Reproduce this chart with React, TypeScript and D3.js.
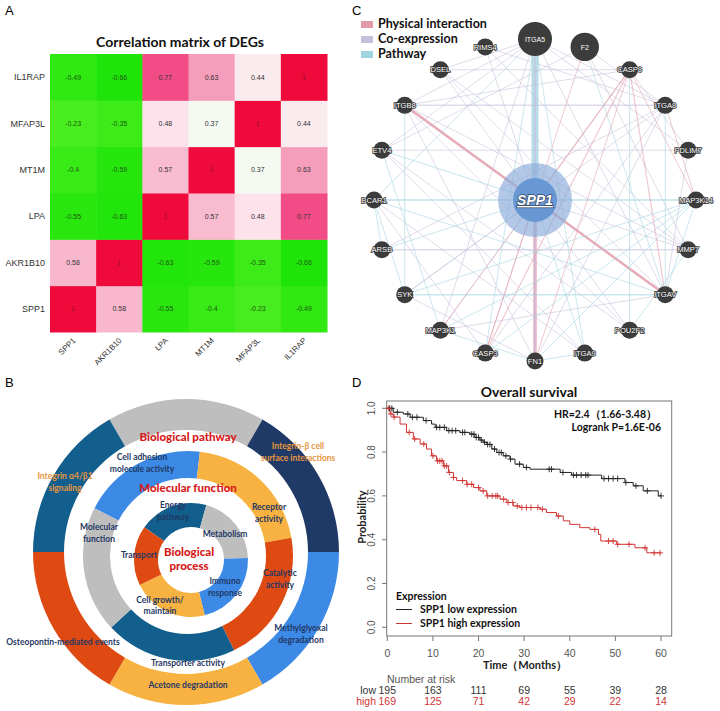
import React from 'react';
import * as d3 from 'd3';

// ---------- Panel A data ----------
const genes = ['SPP1', 'AKR1B10', 'LPA', 'MT1M', 'MFAP3L', 'IL1RAP'];
const corrSPP1 = [1, 0.58, -0.55, -0.4, -0.23, -0.49];
const corrAKR1B10 = [0.58, 1, -0.63, -0.59, -0.35, -0.66];
const corrLPA = [-0.55, -0.63, 1, 0.57, 0.48, 0.77];
const corrMT1M = [-0.4, -0.59, 0.57, 1, 0.37, 0.63];
const corrMFAP3L = [-0.23, -0.35, 0.48, 0.37, 1, 0.44];
const corrIL1RAP = [-0.49, -0.66, 0.77, 0.63, 0.44, 1];
const corrRows = [corrSPP1, corrAKR1B10, corrLPA, corrMT1M, corrMFAP3L, corrIL1RAP];

// ---------- Panel B data ----------
const pathwayNames = ['', 'Integrin-β cell surface interactions', 'Methylglyoxal degradation', 'Acetone degradation', 'Osteopontin-mediated events', 'Integrin α4/β1 signaling'];
const pathwaySpans = [60, 60, 60, 60, 60, 60];
const functionNames = ['Cell adhesion molecule activity', 'Receptor activity', 'Catalytic activity', 'Transporter activity', 'Molecular function'];
const functionSpans = [69.5, 73.5, 74, 73, 70];
const processNames = ['Energy pathway', 'Metabolism', 'Immuno response', 'Cell growth/maintain', 'Transport'];
const processSpans = [70.6, 72.4, 78, 78, 61];

// ---------- Panel C data ----------
const netNodes = ['ITGA5', 'F2', 'CASP8', 'ITGA8', 'PDLIM7', 'MAP3K14', 'MMP7', 'ITGAV', 'POU2F2', 'ITGA9', 'FN1', 'CASP3', 'MAP3K1', 'SYK', 'ARSB', 'BCAR1', 'ETV4', 'ITGB8', 'DSEL', 'RIMS4'];
const netNodeScore = [10, 6, 1, 1, 1, 1, 1, 1, 1, 1, 1, 1, 1, 1, 1, 1, 1, 1, 1, 1];
const netEdges: [string, string, string, number][] = [
  ['ITGA5', 'SPP1', 'W', 7], ['ITGA5', 'SPP1', 'C', 2], ['SPP1', 'FN1', 'P', 3.5], ['SPP1', 'FN1', 'C', 2],
  ['ITGB8', 'SPP1', 'P', 2.5], ['SPP1', 'ITGAV', 'P', 2.5], ['ETV4', 'SPP1', 'W', 1.2], ['BCAR1', 'SPP1', 'W', 1],
  ['RIMS4', 'SPP1', 'C', 1], ['DSEL', 'SPP1', 'C', 1], ['CASP8', 'SPP1', 'P', 1.2], ['SPP1', 'MAP3K14', 'W', 1],
  ['SPP1', 'MMP7', 'C', 1], ['SPP1', 'CASP3', 'P', 1], ['SPP1', 'SYK', 'W', 1], ['SPP1', 'MAP3K1', 'C', 1],
  ['SPP1', 'ITGA9', 'W', 1], ['SPP1', 'POU2F2', 'C', 1], ['SPP1', 'ARSB', 'W', 1], ['ITGB8', 'ITGA8', 'C', 1.5],
  ['ARSB', 'MMP7', 'C', 1.5], ['SYK', 'ITGAV', 'W', 1.5], ['BCAR1', 'MAP3K14', 'W', 1.2], ['ITGA5', 'ITGA8', 'C', 1],
  ['ITGA5', 'PDLIM7', 'C', 1], ['ITGA5', 'DSEL', 'C', 1], ['ITGA5', 'ITGB8', 'C', 1], ['ITGA5', 'ITGAV', 'C', 1],
  ['ITGA5', 'BCAR1', 'W', 1], ['ITGA5', 'MAP3K1', 'C', 1], ['ITGA5', 'CASP3', 'W', 1], ['F2', 'ITGA8', 'C', 1],
  ['F2', 'MMP7', 'C', 1], ['F2', 'CASP3', 'P', 1], ['F2', 'ITGAV', 'W', 1], ['F2', 'ETV4', 'C', 1],
  ['CASP8', 'CASP3', 'P', 1.2], ['CASP8', 'ITGAV', 'P', 1.2], ['CASP8', 'MAP3K14', 'P', 1], ['CASP8', 'POU2F2', 'W', 1],
  ['CASP8', 'DSEL', 'C', 1], ['CASP8', 'ITGB8', 'C', 1], ['CASP8', 'MAP3K1', 'P', 1], ['CASP8', 'PDLIM7', 'C', 1],
  ['ITGB8', 'SYK', 'W', 1], ['ITGB8', 'ITGAV', 'P', 1], ['ITGB8', 'FN1', 'C', 1], ['ITGB8', 'MMP7', 'C', 1],
  ['ETV4', 'MAP3K1', 'W', 1], ['ETV4', 'PDLIM7', 'C', 1], ['ETV4', 'ITGA5', 'C', 1], ['BCAR1', 'SYK', 'W', 1],
  ['BCAR1', 'ARSB', 'W', 1], ['BCAR1', 'CASP3', 'C', 1], ['BCAR1', 'ITGAV', 'W', 1], ['BCAR1', 'ITGA9', 'C', 1],
  ['SYK', 'MAP3K14', 'W', 1], ['SYK', 'ITGA8', 'C', 1], ['MAP3K1', 'MAP3K14', 'W', 1], ['MAP3K1', 'ITGAV', 'C', 1],
  ['POU2F2', 'ETV4', 'C', 1], ['POU2F2', 'ITGB8', 'C', 1], ['MMP7', 'DSEL', 'C', 1], ['ITGA8', 'MAP3K14', 'P', 1],
  ['ITGA8', 'ITGAV', 'W', 1], ['PDLIM7', 'ITGAV', 'C', 1], ['RIMS4', 'ITGA8', 'C', 1], ['RIMS4', 'MMP7', 'C', 1],
  ['DSEL', 'ITGAV', 'C', 1], ['FN1', 'ITGA8', 'C', 1], ['FN1', 'CASP8', 'P', 1], ['FN1', 'ITGA9', 'W', 1],
  ['FN1', 'MAP3K1', 'W', 1], ['FN1', 'SYK', 'C', 1], ['FN1', 'MAP3K14', 'W', 1], ['ITGA9', 'ITGA5', 'W', 1],
  ['ITGA9', 'ETV4', 'C', 1], ['CASP3', 'ITGA8', 'C', 1], ['CASP3', 'MAP3K14', 'W', 1], ['ARSB', 'ITGA8', 'C', 1],
  ['MMP7', 'POU2F2', 'W', 1], ['MAP3K14', 'ITGAV', 'W', 1],
];
const edgeTypes = ['Physical interaction', 'Co-expression', 'Pathway'];

// ---------- Panel D data ----------
const lowTimes = [0, 1.3, 3.5, 5.0, 7.9, 9.7, 10.5, 13.0, 15.9, 18.1, 19.2, 20.3, 21.0, 21.8, 22.9, 24.0, 25.4, 26.9, 28.0, 29.8, 31.3, 37.9, 40.4, 47.0, 52.1, 53.9, 56.1, 59.4];
const lowSurv = [1.0, 0.982, 0.974, 0.959, 0.944, 0.928, 0.913, 0.898, 0.890, 0.882, 0.867, 0.855, 0.845, 0.835, 0.814, 0.798, 0.783, 0.768, 0.745, 0.730, 0.722, 0.707, 0.695, 0.679, 0.661, 0.646, 0.623, 0.600];
const lowCensor = [0.5, 1.0, 2.2, 4.5, 5.5, 6.5, 8.5, 10.8, 11.5, 12.5, 13.5, 14.2, 15.0, 16.5, 17.0, 18.5, 19.0, 19.5, 20.0, 20.6, 21.3, 22.0, 22.5, 23.5, 24.5, 25.0, 26.0, 27.0, 29.0, 30.5, 35.5, 36.0, 38.5, 40.8, 41.5, 42.5, 43.5, 44.0, 47.5, 48.5, 49.5, 50.5, 52.3, 54.5, 57.0, 60.0];
const highTimes = [0, 0.6, 1.3, 2.8, 4.2, 5.7, 7.2, 8.6, 9.7, 10.8, 12.3, 13.4, 14.5, 15.2, 17.4, 18.9, 20.3, 21.8, 24.7, 26.2, 27.6, 29.1, 33.5, 34.9, 37.1, 38.6, 40.0, 42.2, 44.4, 46.3, 46.8, 50.3, 54.3, 56.9];
const highSurv = [1.0, 0.974, 0.96, 0.928, 0.89, 0.86, 0.837, 0.814, 0.783, 0.76, 0.737, 0.707, 0.684, 0.67, 0.653, 0.638, 0.623, 0.60, 0.585, 0.57, 0.554, 0.547, 0.539, 0.524, 0.508, 0.486, 0.47, 0.455, 0.447, 0.424, 0.394, 0.379, 0.363, 0.34];
const highCensor = [0.3, 0.8, 1.5, 4.8, 6.0, 8.0, 10.0, 11.0, 11.5, 12.0, 12.5, 13.0, 13.6, 14.5, 16.5, 17.5, 18.5, 20.0, 21.0, 22.0, 23.0, 23.8, 24.2, 25.5, 26.5, 27.5, 28.5, 29.5, 30.5, 31.5, 33.0, 34.0, 37.5, 45.5, 48.5, 49.5, 50.5, 53.0, 56.5, 58.5, 59.8];
const riskTimes = [0, 10, 20, 30, 40, 50, 60];
const riskLow = [195, 163, 111, 69, 55, 39, 28];
const riskHigh = [169, 125, 71, 42, 29, 22, 14];
const yTicks = [0, 0.2, 0.4, 0.6, 0.8, 1.0];

const SANS = 'Liberation Sans, Arial, sans-serif';
const LATO = 'Lato, Open Sans, sans-serif';
const rad = (d: number) => (d * Math.PI) / 180;

function PanelA() {
  const x = d3.scaleBand<string>().domain(genes).range([50, 327]);
  const y = d3.scaleBand<string>().domain([...genes].reverse()).range([54, 332]);
  const neg = d3.scaleLinear<string>().domain([-0.66, -0.2]).range(['#1fe40a', '#4cee20']);
  const pos = d3.scaleLinear<string>().domain([0.37, 0.48, 0.6, 0.77, 1]).range(['#f4faf2', '#fde2ec', '#f7aec7', '#f14c86', '#ef0a3c']);
  const cells: any[] = [];
  genes.forEach((r, ri) => genes.forEach((c, ci) => cells.push({ r, c, v: corrRows[ri][ci] })));
  return (
    <g>
      <text x={5} y={15} fontFamily={SANS} fontSize={13}>A</text>
      <text x={180} y={47} textAnchor="middle" fontFamily={LATO} fontWeight={700} fontSize={14} fill="#111">Correlation matrix of  DEGs</text>
      {cells.map((d, i) => (
        <g key={i}>
          <rect x={x(d.c)} y={y(d.r)} width={x.bandwidth() + 0.5} height={y.bandwidth() + 0.5} fill={d.v < 0 ? neg(d.v) : pos(d.v)} />
          <text x={(x(d.c) as number) + x.bandwidth() / 2} y={(y(d.r) as number) + y.bandwidth() / 2 + 2.5} textAnchor="middle" fontFamily={SANS} fontSize={7} fill={d.v === 1 ? '#9a0a2a' : d.v < 0 ? '#1d5a10' : '#333'}>{String(d.v)}</text>
        </g>
      ))}
      {genes.map((g) => (
        <text key={'r' + g} x={45} y={(y(g) as number) + y.bandwidth() / 2 + 3} textAnchor="end" fontFamily={SANS} fontSize={9} fill="#333">{g}</text>
      ))}
      {genes.map((g) => {
        const cx = (x(g) as number) + x.bandwidth() / 2 + 3;
        return (
          <text key={'c' + g} transform={`translate(${cx},341) rotate(-45)`} textAnchor="end" fontFamily={SANS} fontSize={8} fill="#333">{g}</text>
        );
      })}
    </g>
  );
}

const segColors = {
  gray: '#bebebe', navy: '#1f3a66', blue: '#3d8ae6', yellow: '#f7b241', red: '#de4a12', teal: '#125f8e',
};

function Ring({ cx, cy, r0, r1, spans, start, colors }: any) {
  const pie = d3.pie<number>().sort(null).value((d) => d).startAngle(rad(start)).endAngle(rad(start + 360));
  const arc = d3.arc<any>().innerRadius(r0).outerRadius(r1);
  return (
    <g transform={`translate(${cx},${cy})`}>
      {pie(spans).map((a, i) => (
        <path key={i} d={arc(a) as string} fill={colors[i]} />
      ))}
    </g>
  );
}

function Lines({ x, ys, lines, size, color, weight = 700 }: any) {
  return (
    <>
      {lines.map((l: string, i: number) => (
        <text key={i} x={x} y={ys[i]} textAnchor="middle" fontFamily={LATO} fontWeight={weight} fontSize={size} fill={color}>{l}</text>
      ))}
    </>
  );
}

function PanelB() {
  const navy = '#1f3864';
  const orange = '#e8963e';
  const red = '#d71a1a';
  return (
    <g>
      <text x={5} y={387} fontFamily={SANS} fontSize={13}>B</text>
      <Ring cx={186} cy={552} r0={122} r1={153} spans={pathwaySpans} start={-30}
        colors={[segColors.gray, segColors.navy, segColors.blue, segColors.yellow, segColors.red, segColors.teal]} />
      <Ring cx={188} cy={556} r0={78} r1={105} spans={functionSpans} start={-63}
        colors={[segColors.blue, segColors.yellow, segColors.red, segColors.teal, segColors.gray]} />
      <Ring cx={191} cy={560} r0={33} r1={57} spans={processSpans} start={-55}
        colors={[segColors.teal, segColors.gray, segColors.blue, segColors.yellow, segColors.red]} />
      <Lines x={188} ys={[441]} lines={['Biological pathway']} size={11.5} color={red} weight={900} />
      <Lines x={188} ys={[492]} lines={['Molecular function']} size={11.5} color={red} weight={900} />
      <Lines x={189} ys={[556, 570]} lines={['Biological', 'process']} size={11.5} color={red} weight={900} />
      <Lines x={65} ys={[479, 491]} lines={['Integrin α4/β1', 'signaling']} size={8.5} color={orange} />
      <Lines x={298} ys={[449, 461]} lines={['Integrin-β cell', 'surface interactions']} size={8.5} color={orange} />
      <Lines x={301} ys={[631, 643]} lines={['Methylglyoxal', 'degradation']} size={8.5} color={navy} />
      <Lines x={188} ys={[688]} lines={['Acetone degradation']} size={8.5} color={navy} />
      <Lines x={63} ys={[645]} lines={['Osteopontin-mediated events']} size={8.5} color={navy} />
      <Lines x={142} ys={[460, 472]} lines={['Cell adhesion', 'molecule activity']} size={8.5} color={navy} />
      <Lines x={269} ys={[510, 522]} lines={['Receptor', 'activity']} size={8.5} color={navy} />
      <Lines x={280} ys={[576, 588]} lines={['Catalytic', 'activity']} size={8.5} color={navy} />
      <Lines x={188} ys={[666]} lines={['Transporter activity']} size={8.5} color={navy} />
      <Lines x={99} ys={[530, 542]} lines={['Molecular', 'function']} size={8.5} color={navy} />
      <Lines x={173} ys={[508, 520]} lines={['Energy', 'pathway']} size={8.5} color={navy} />
      <Lines x={225} ys={[537]} lines={['Metabolism']} size={8.5} color={navy} />
      <Lines x={139} ys={[558]} lines={['Transport']} size={8.5} color={navy} />
      <Lines x={225} ys={[584, 596]} lines={['Immuno', 'response']} size={8.5} color={navy} />
      <Lines x={160} ys={[603, 614]} lines={['Cell growth/', 'maintain']} size={8.5} color={navy} />
    </g>
  );
}

function PanelC() {
  const cx = 535, cy = 200, R = 161;
  const ang = d3.scaleLinear().domain([0, netNodes.length]).range([0, 360]);
  const size = d3.scaleSqrt().domain([1, 10]).range([8.5, 17]);
  const pos: Record<string, [number, number]> = { SPP1: [cx, cy] };
  netNodes.forEach((n, i) => {
    const a = rad(ang(i));
    pos[n] = [cx + R * Math.sin(a), cy - R * Math.cos(a)];
  });
  const ecol: Record<string, string> = { P: '#e09aa8', C: '#c6bedb', W: '#9fd3e0' };
  const legendCols = [ecol.P, ecol.C, ecol.W];
  return (
    <g>
      <text x={352} y={15} fontFamily={SANS} fontSize={13}>C</text>
      {netEdges.map((e, i) => {
        const [a, b, t, w] = e;
        return (
          <line key={i} x1={pos[a][0]} y1={pos[a][1]} x2={pos[b][0]} y2={pos[b][1]} stroke={ecol[t]} strokeWidth={w} strokeOpacity={w > 2 ? 0.75 : 0.55} />
        );
      })}
      <circle cx={cx} cy={cy} r={37} fill="#88aad8" fillOpacity={0.65} />
      <circle cx={cx} cy={cy} r={22} fill="#6898d4" />
      <text x={cx} y={cy + 5} textAnchor="middle" fontFamily={SANS} fontStyle="italic" fontWeight={700} fontSize={14} fill="#fff" stroke="#3a4a66" strokeWidth={1.5} paintOrder="stroke" textDecoration="underline">SPP1</text>
      {netNodes.map((n, i) => {
        const r = size(netNodeScore[i]);
        return (
          <g key={n}>
            <circle cx={pos[n][0]} cy={pos[n][1]} r={r} fill="#3c3c3c" />
            <text x={pos[n][0]} y={pos[n][1] + 2.7} textAnchor="middle" fontFamily={SANS} fontSize={r > 10 ? 7 : 7.6} fill="#fff" stroke={r > 10 ? 'none' : '#333'} strokeWidth={1.6} paintOrder="stroke">{n}</text>
          </g>
        );
      })}
      {edgeTypes.map((t, i) => (
        <g key={t}>
          <rect x={361} y={21 + i * 15} width={12} height={7} fill={legendCols[i]} />
          <text x={378} y={28 + i * 15} fontFamily={LATO} fontWeight={700} fontSize={12.5} fill="#111">{t}</text>
        </g>
      ))}
    </g>
  );
}

function survAt(times: number[], surv: number[], t: number) {
  const i = d3.bisectRight(times, t) - 1;
  return surv[Math.max(0, i)];
}

function PanelD() {
  const x = d3.scaleLinear().domain([0, 60]).range([387.3, 661]);
  const y = d3.scaleLinear().domain([0, 1]).range([627.3, 408.3]);
  const line = d3.line<[number, number]>().x((d) => x(d[0])).y((d) => y(d[1])).curve(d3.curveStepAfter);
  const lowPts: [number, number][] = lowTimes.map((t, i) => [t, lowSurv[i]] as [number, number]).concat([[60, lowSurv[lowSurv.length - 1]]]);
  const highPts: [number, number][] = highTimes.map((t, i) => [t, highSurv[i]] as [number, number]).concat([[60, highSurv[highSurv.length - 1]]]);
  const black = '#222';
  const redc = '#d23434';
  const plus = (cxp: number, cyp: number, c: string, k: string) => (
    <path key={k} d={`M${cxp - 3},${cyp}H${cxp + 3}M${cxp},${cyp - 3}V${cyp + 3}`} stroke={c} strokeWidth={0.9} />
  );
  const gray = '#555';
  return (
    <g>
      <text x={352} y={387} fontFamily={SANS} fontSize={13}>D</text>
      <text x={529} y={397} textAnchor="middle" fontFamily={LATO} fontWeight={700} fontSize={14} fill="#111">Overall survival</text>
      <rect x={386.7} y={401} width={285} height={235} fill="none" stroke="#777" strokeWidth={1} />
      {yTicks.map((t) => (
        <g key={'y' + t}>
          <line x1={386.7} x2={382} y1={y(t)} y2={y(t)} stroke="#777" />
          <text transform={`translate(375,${y(t)}) rotate(-90)`} textAnchor="middle" fontFamily={SANS} fontSize={10} fill={gray}>{t.toFixed(1)}</text>
        </g>
      ))}
      {riskTimes.map((t) => (
        <g key={'x' + t}>
          <line x1={x(t)} x2={x(t)} y1={636} y2={641} stroke="#777" />
          <text x={x(t)} y={657} textAnchor="middle" fontFamily={SANS} fontSize={10.5} fill={gray}>{t}</text>
        </g>
      ))}
      <text x={525} y={669} textAnchor="middle" fontFamily={LATO} fontWeight={700} fontSize={11} fill="#222">Time（Months）</text>
      <text transform="translate(366,517) rotate(-90)" textAnchor="middle" fontFamily={LATO} fontWeight={700} fontSize={11} fill="#222">Probability</text>
      <path d={line(lowPts) as string} fill="none" stroke={black} strokeWidth={1} />
      <path d={line(highPts) as string} fill="none" stroke={redc} strokeWidth={1} />
      {lowCensor.map((t, i) => plus(x(t), y(survAt(lowTimes, lowSurv, t)), black, 'lc' + i))}
      {highCensor.map((t, i) => plus(x(t), y(survAt(highTimes, highSurv, t)), redc, 'hc' + i))}
      <text x={657} y={418} textAnchor="end" fontFamily={LATO} fontWeight={700} fontSize={10.5} fill="#111">HR=2.4（1.66-3.48）</text>
      <text x={661} y={431} textAnchor="end" fontFamily={LATO} fontWeight={700} fontSize={10.5} fill="#111">Logrank P=1.6E-06</text>
      <text x={396} y={600} fontFamily={LATO} fontWeight={700} fontSize={10.5} fill="#111">Expression</text>
      <line x1={396} x2={412} y1={609.5} y2={609.5} stroke={black} />
      <text x={420} y={613} fontFamily={LATO} fontWeight={700} fontSize={10.5} fill="#111">SPP1 low expression</text>
      <line x1={396} x2={412} y1={623.5} y2={623.5} stroke={redc} />
      <text x={420} y={627} fontFamily={LATO} fontWeight={700} fontSize={10.5} fill="#111">SPP1 high expression</text>
      <text x={387} y={683} fontFamily={SANS} fontSize={10.5} fill={gray}>Number at risk</text>
      <text x={376} y={694} textAnchor="end" fontFamily={SANS} fontSize={10.5} fill="#333">low</text>
      <text x={376} y={704.5} textAnchor="end" fontFamily={SANS} fontSize={10.5} fill={redc}>high</text>
      {riskTimes.map((t, i) => (
        <g key={'r' + t}>
          <text x={x(t)} y={694} textAnchor="middle" fontFamily={SANS} fontSize={10.5} fill="#333">{riskLow[i]}</text>
          <text x={x(t)} y={704.5} textAnchor="middle" fontFamily={SANS} fontSize={10.5} fill={redc}>{riskHigh[i]}</text>
        </g>
      ))}
    </g>
  );
}

export default function App() {
  return (
    <svg width={720} height={711} viewBox="0 0 720 711" style={{ position: 'absolute', left: 0, top: 0, background: '#fff' }}>
      <rect width={720} height={711} fill="#fff" />
      <PanelA />
      <PanelB />
      <PanelC />
      <PanelD />
    </svg>
  );
}
